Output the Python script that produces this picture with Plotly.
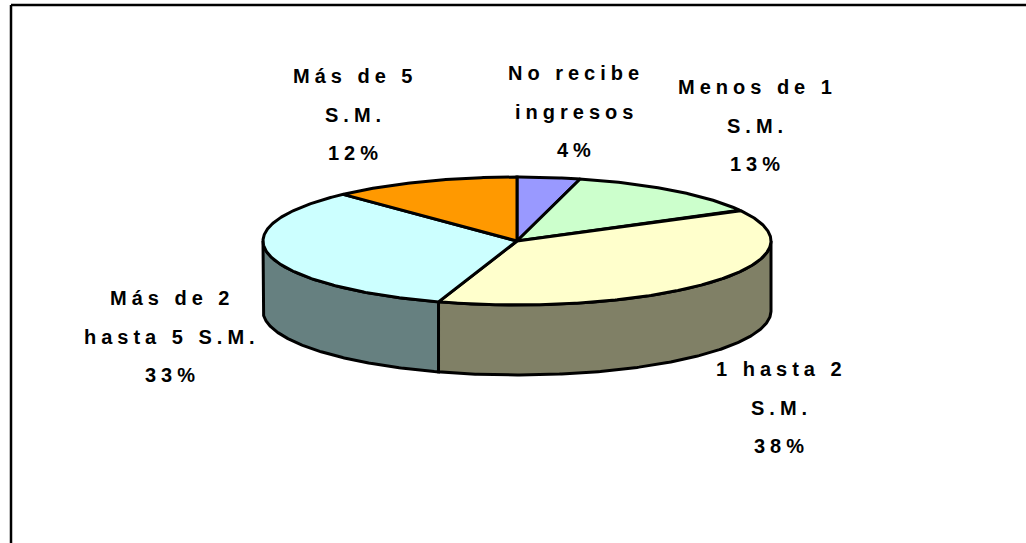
import numpy as np
import plotly.graph_objects as go

# ---- data (clockwise from 12 o'clock) ----
categories = ["No recibe<br>ingresos", "Menos de 1<br>S.M.", "1 hasta 2<br>S.M.",
              "Más de 2<br>hasta 5 S.M.", "Más de 5<br>S.M."]
values = [4, 13, 38, 33, 12]
top_colors = ["#9999FF", "#CCFFCC", "#FFFFCC", "#CCFFFF", "#FF9900"]
side_colors = ["#4D4D80", "#668066", "#808066", "#668080", "#804D00"]

# ---- layout / geometry (pixels) ----
W, H = 1026, 543
CX, CY, RX, RY, DEPTH = 517, 241, 254, 64, 70
label_pos = [(576, 73), (757, 87), (781, 369), (172, 298), (355, 76)]
LINE_GAP = 38.5
FONT = dict(family="Liberation Sans Narrow, Liberation Sans, Arial", size=20, color="#000000")
SPACING = 5

def pt(theta_deg, dy=0.0):
    t = np.radians(theta_deg)
    return CX + RX * np.sin(t), CY - RY * np.cos(t) + dy

fig = go.Figure()

total = float(sum(values))
bounds = np.concatenate([[0.0], np.cumsum(values) / total * 360.0])

# side walls (only front half visible: 90..270 degrees)
for i in range(len(values)):
    a, b = max(bounds[i], 90.0), min(bounds[i + 1], 270.0)
    if b <= a:
        continue
    th = np.linspace(a, b, max(int((b - a) * 2), 8))
    xt, yt = pt(th)
    xb, yb = pt(th[::-1], DEPTH)
    xs = np.concatenate([xt, xb, xt[:1]])
    ys = np.concatenate([yt, yb, yt[:1]])
    fig.add_trace(go.Scatter(x=xs, y=ys, mode="lines", fill="toself",
                             fillcolor=side_colors[i],
                             line=dict(color="black", width=3),
                             hoverinfo="skip", showlegend=False))

# top faces
for i in range(len(values)):
    a, b = bounds[i], bounds[i + 1]
    th = np.linspace(a, b, max(int((b - a) * 2), 8))
    xa, ya = pt(th)
    xs = np.concatenate([[CX], xa, [CX]])
    ys = np.concatenate([[CY], ya, [CY]])
    fig.add_trace(go.Scatter(x=xs, y=ys, mode="lines", fill="toself",
                             fillcolor=top_colors[i],
                             line=dict(color="black", width=3),
                             hoverinfo="skip", showlegend=False))

# labels (each line separate, wide Excel-like line spacing)
annotations = []
for cat, v, (lx, ly) in zip(categories, values, label_pos):
    lines = cat.split("<br>") + [f"{v}%"]
    for k, line in enumerate(lines):
        annotations.append(dict(
            x=lx, y=ly + k * LINE_GAP, xref="x", yref="y",
            text=f'<span style="letter-spacing:{SPACING}px">{line}</span>',
            showarrow=False, xanchor="center", yanchor="middle",
            font=dict(FONT, weight="bold")))

shapes = [
    dict(type="line", x0=11, x1=W, y0=5, y1=5, xref="x", yref="y",
         line=dict(color="black", width=2.5)),
    dict(type="line", x0=11, x1=11, y0=5, y1=H, xref="x", yref="y",
         line=dict(color="black", width=2.5)),
]

fig.update_layout(
    width=W, height=H, autosize=False,
    margin=dict(l=0, r=0, t=0, b=0),
    paper_bgcolor="white", plot_bgcolor="white",
    xaxis=dict(range=[0, W], visible=False, fixedrange=True),
    yaxis=dict(range=[H, 0], visible=False, fixedrange=True),
    annotations=annotations, shapes=shapes,
    showlegend=False,
)

fig.write_html("out.html", config={"displayModeBar": False},
               post_script="document.body.style.margin='0';document.body.style.overflow='hidden';")
